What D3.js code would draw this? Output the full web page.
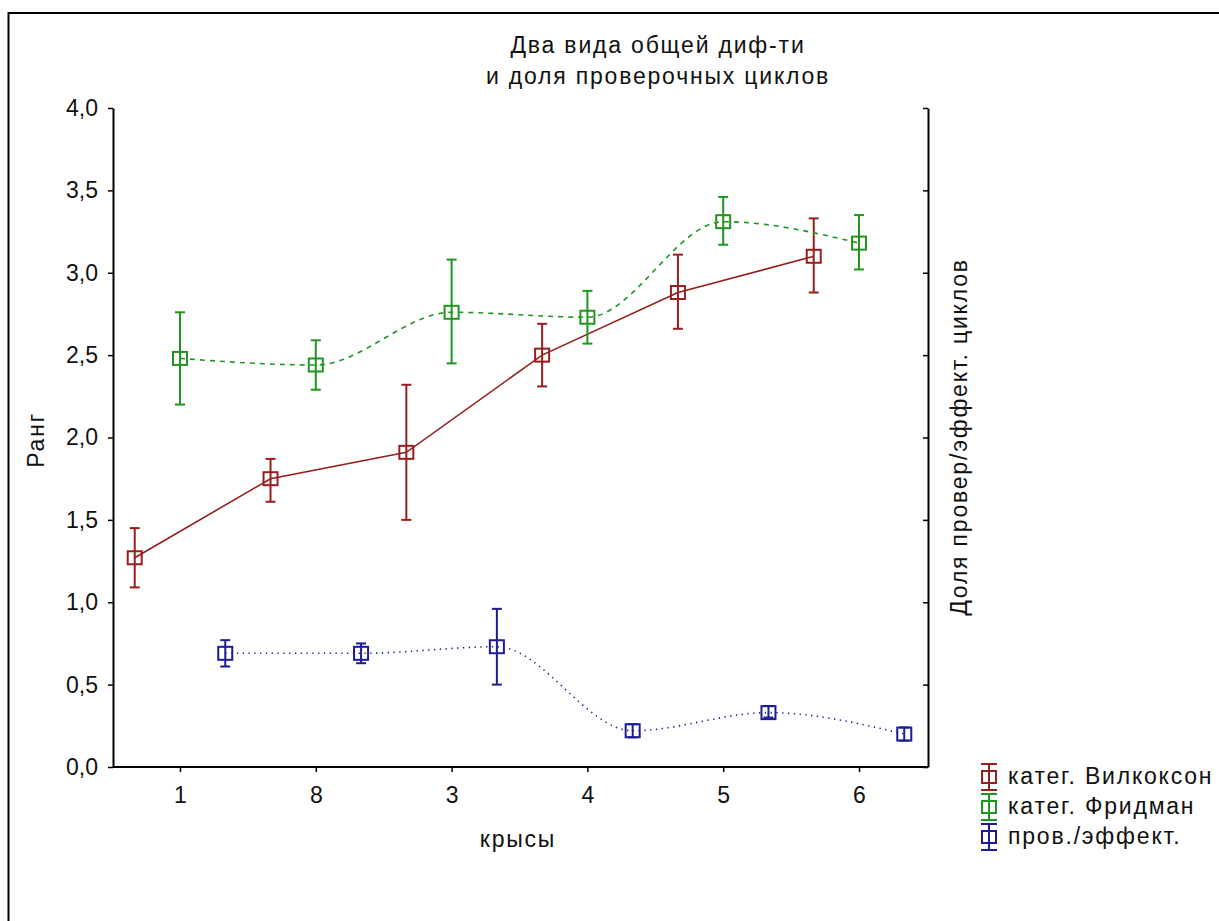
<!DOCTYPE html>
<html>
<head>
<meta charset="utf-8">
<script src="https://cdn.jsdelivr.net/npm/d3@7"></script>
<style>
  html, body { margin: 0; padding: 0; background: #fff; }
  svg { display: block; }
  text { font-family: "Liberation Sans", Arial, sans-serif; fill: #111; }
  .spaced { letter-spacing: 1.8px; }
</style>
</head>
<body>
<svg id="chart" width="1219" height="921"></svg>
<script>
// Rats (x categories) in display order
const rats = ["1", "8", "3", "4", "5", "6"];

// Mean rank and error limits, Wilcoxon categories
const wilcoxonMean = [1.27, 1.75, 1.91, 2.50, 2.88, 3.10];
const wilcoxonHigh = [1.45, 1.87, 2.32, 2.69, 3.11, 3.33];
const wilcoxonLow  = [1.09, 1.61, 1.50, 2.31, 2.66, 2.88];

// Mean rank and error limits, Friedman categories
const friedmanMean = [2.48, 2.44, 2.76, 2.73, 3.31, 3.18];
const friedmanHigh = [2.76, 2.59, 3.08, 2.89, 3.46, 3.35];
const friedmanLow  = [2.20, 2.29, 2.45, 2.57, 3.17, 3.02];

// Share of check / effective cycles
const checkMean = [0.69, 0.69, 0.73, 0.22, 0.33, 0.20];
const checkHigh = [0.77, 0.75, 0.96, 0.26, 0.37, 0.24];
const checkLow  = [0.61, 0.63, 0.50, 0.18, 0.30, 0.16];

const yTicks = [0, 0.5, 1.0, 1.5, 2.0, 2.5, 3.0, 3.5, 4.0];

const seriesNames = ["катег. Вилкоксон", "катег. Фридман", "пров./эффект."];
const seriesColors = ["#981e1e", "#1f961f", "#1c1c96"];

const series = [
  { name: seriesNames[0], color: seriesColors[0], mean: wilcoxonMean, hi: wilcoxonHigh, lo: wilcoxonLow, offset: -1, dash: null, curve: d3.curveLinear },
  { name: seriesNames[1], color: seriesColors[1], mean: friedmanMean, hi: friedmanHigh, lo: friedmanLow, offset: 0, dash: "5,5", curve: d3.curveMonotoneX },
  { name: seriesNames[2], color: seriesColors[2], mean: checkMean, hi: checkHigh, lo: checkLow, offset: 1, dash: "1.3,4.5", curve: d3.curveMonotoneX }
];

const svg = d3.select("#chart");
const FS = 23;

// outer frame
svg.append("rect")
  .attr("x", 8.5).attr("y", 13)
  .attr("width", 1219).attr("height", 930)
  .attr("fill", "none").attr("stroke", "#000").attr("stroke-width", 2);

const plotLeft = 113, plotRight = 928, plotTop = 108, plotBottom = 767;

const x = d3.scalePoint().domain(rats).range([180, 859]);
const shift = x.step() / 3;
const y = d3.scaleLinear().domain([0, 4]).range([plotBottom, plotTop]);

// left axis
const yAxis = svg.append("g")
  .attr("transform", `translate(${plotLeft},0)`)
  .call(d3.axisLeft(y).tickValues(yTicks).tickSize(5).tickSizeOuter(0)
    .tickFormat(d => d3.format(".1f")(d).replace(".", ",")));
yAxis.select(".domain").attr("stroke-width", 2);
yAxis.selectAll(".tick line").attr("stroke-width", 1.5);
yAxis.selectAll(".tick text").attr("font-size", FS).attr("x", -15).attr("fill", "#111");

// right axis (ticks inward, no labels)
const yAxisR = svg.append("g")
  .attr("transform", `translate(${plotRight},0)`)
  .call(d3.axisLeft(y).tickValues(yTicks).tickSize(5).tickSizeOuter(0).tickFormat(""));
yAxisR.select(".domain").attr("stroke-width", 2);
yAxisR.selectAll(".tick line").attr("stroke-width", 1.5);

// bottom axis
const xAxis = svg.append("g")
  .attr("transform", `translate(0,${plotBottom})`)
  .call(d3.axisBottom(x).tickSize(5).tickSizeOuter(0));
xAxis.select(".domain").attr("d", `M${plotLeft},0H${plotRight}`).attr("stroke-width", 2);
xAxis.selectAll(".tick line").attr("stroke-width", 1.5);
xAxis.selectAll(".tick text").attr("font-size", FS).attr("y", 36).attr("dy", 0).attr("fill", "#111");

// titles
const title = svg.append("text").attr("class", "spaced").attr("text-anchor", "middle").attr("font-size", FS);
title.append("tspan").attr("x", 658).attr("y", 53).text("Два вида общей диф-ти");
title.append("tspan").attr("x", 658).attr("y", 84).text("и доля проверочных циклов");

svg.append("text").attr("class", "spaced").attr("x", 518).attr("y", 847).attr("text-anchor", "middle")
  .attr("font-size", FS).text("крысы");

svg.append("text").attr("class", "spaced").attr("transform", "translate(44,440) rotate(-90)")
  .attr("text-anchor", "middle").attr("font-size", FS).text("Ранг");

svg.append("text").attr("class", "spaced").attr("transform", "translate(967,437) rotate(-90)")
  .attr("text-anchor", "middle").attr("font-size", FS).text("Доля провер/эффект. циклов");

// series: connecting line, error bars and open square markers
const half = 7, cap = 5;
series.forEach(s => {
  const pts = rats.map((r, i) => ({ cx: x(r) + s.offset * shift, m: s.mean[i], hi: s.hi[i], lo: s.lo[i] }));
  const line = d3.line().x(d => d.cx).y(d => y(d.m)).curve(s.curve);
  svg.append("path").attr("d", line(pts))
    .attr("fill", "none").attr("stroke", s.color).attr("stroke-width", 1.6)
    .attr("stroke-dasharray", s.dash);

  const g = svg.append("g").attr("stroke", s.color).attr("stroke-width", 2).attr("fill", "none");
  pts.forEach(p => {
    g.append("line").attr("x1", p.cx).attr("x2", p.cx).attr("y1", y(p.hi)).attr("y2", y(p.lo));
    g.append("line").attr("x1", p.cx - cap).attr("x2", p.cx + cap).attr("y1", y(p.hi)).attr("y2", y(p.hi));
    g.append("line").attr("x1", p.cx - cap).attr("x2", p.cx + cap).attr("y1", y(p.lo)).attr("y2", y(p.lo));
    g.append("rect").attr("x", p.cx - half).attr("y", y(p.m) - half + 0.5)
      .attr("width", half * 2).attr("height", half * 2 - 1);
  });
});

// legend
const legend = svg.append("g").attr("transform", "translate(989,777)");
series.forEach((s, i) => {
  const row = legend.append("g").attr("transform", `translate(0,${i * 30})`);
  const lg = row.append("g").attr("stroke", s.color).attr("stroke-width", 2).attr("fill", "none");
  lg.append("line").attr("x1", 0).attr("x2", 0).attr("y1", -13).attr("y2", 13);
  lg.append("line").attr("x1", -8).attr("x2", 8).attr("y1", -13).attr("y2", -13);
  lg.append("line").attr("x1", -8).attr("x2", 8).attr("y1", 13).attr("y2", 13);
  lg.append("rect").attr("x", -7).attr("y", -6).attr("width", 14).attr("height", 12);
  row.append("text").attr("class", "spaced").attr("x", 19).attr("y", 7).attr("font-size", FS).text(s.name);
});
</script>
</body>
</html>
